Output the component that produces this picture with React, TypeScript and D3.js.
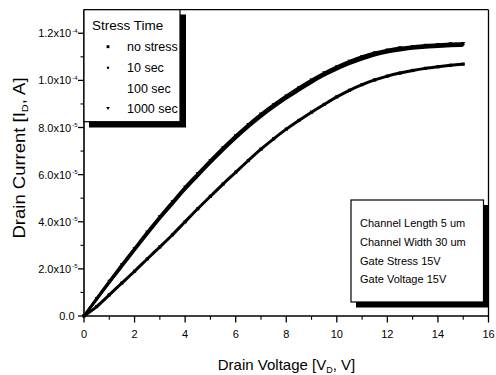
import React from "react";
import * as d3 from "d3";

const voltage = [0, 0.5, 1, 1.5, 2, 2.5, 3, 3.5, 4, 4.5, 5, 5.5, 6, 6.5, 7, 7.5, 8, 8.5, 9, 9.5, 10, 10.5, 11, 11.5, 12, 12.5, 13, 13.5, 14, 14.5, 15];
// drain current in units of 1e-5 A
const noStress = [0, 0.4, 0.9, 1.4, 1.9, 2.42, 2.93, 3.45, 4.0, 4.55, 5.08, 5.6, 6.1, 6.6, 7.08, 7.52, 7.93, 8.3, 8.65, 8.98, 9.3, 9.58, 9.82, 10.02, 10.18, 10.31, 10.42, 10.51, 10.58, 10.64, 10.69];
const sec10 = [0, 0.72, 1.44, 2.14, 2.83, 3.52, 4.18, 4.8, 5.42, 5.99, 6.55, 7.09, 7.6, 8.08, 8.52, 8.92, 9.29, 9.64, 9.97, 10.27, 10.53, 10.76, 10.96, 11.12, 11.24, 11.33, 11.39, 11.44, 11.47, 11.5, 11.52];
const sec100 = [0, 0.7, 1.41, 2.1, 2.79, 3.47, 4.13, 4.75, 5.37, 5.94, 6.5, 7.03, 7.54, 8.02, 8.46, 8.86, 9.23, 9.58, 9.91, 10.21, 10.47, 10.7, 10.9, 11.07, 11.19, 11.28, 11.35, 11.4, 11.43, 11.46, 11.48];
const sec1000 = [0, 0.74, 1.47, 2.18, 2.87, 3.56, 4.22, 4.85, 5.47, 6.04, 6.6, 7.14, 7.65, 8.13, 8.57, 8.97, 9.34, 9.69, 10.02, 10.32, 10.58, 10.81, 11.01, 11.17, 11.29, 11.38, 11.44, 11.49, 11.52, 11.55, 11.57];

const seriesNames = ["no stress", "10 sec", "100 sec", "1000 sec"];
const seriesMarkers = ["square", "circle", "none", "triangleDown"];

const xTicks = [0, 2, 4, 6, 8, 10, 12, 14, 16];
const xMinor = [1, 3, 5, 7, 9, 11, 13, 15];
const yTicks = [0, 2, 4, 6, 8, 10, 12];
const yMinor = [1, 3, 5, 7, 9, 11];
const yTickMain = ["0.0", "2.0x10", "4.0x10", "6.0x10", "8.0x10", "1.0x10", "1.2x10"];
const yTickExp = ["", "-5", "-5", "-5", "-5", "-4", "-4"];

const infoLines = ["Channel Length 5 um", "Channel Width 30 um", "Gate Stress 15V", "Gate Voltage 15V"];

const FONT = "'Liberation Sans', Arial, sans-serif";

function Marker({ type, x, y, s = 1 }: { type: string; x: number; y: number; s?: number }) {
  if (type === "square") return <rect x={x - 1.6 * s} y={y - 1.6 * s} width={3.2 * s} height={3.2 * s} fill="#000" />;
  if (type === "circle") return <circle cx={x} cy={y} r={1.4 * s} fill="#000" />;
  if (type === "triangleDown")
    return <path d={`M${x - 2 * s},${y - 1.5 * s}L${x + 2 * s},${y - 1.5 * s}L${x},${y + 2 * s}Z`} fill="#000" />;
  return null;
}

export default function App() {
  const x = d3.scaleLinear().domain([0, 16]).range([84, 488.5]);
  const y = d3.scaleLinear().domain([0, 13]).range([316, 9.7]);
  const allSeries = [noStress, sec10, sec100, sec1000];
  const line = d3
    .line<number>()
    .x((_, i) => x(voltage[i]))
    .y((d) => y(d))
    .curve(d3.curveMonotoneX);

  const legendRows = [46.7, 67.7, 88.3, 108.3];
  const infoBase = [227, 246, 264.5, 283];

  return (
    <svg width={496} height={375} style={{ position: "absolute", left: 0, top: 0, background: "#fff" }} fontFamily={FONT}>
      <rect x={0} y={0} width={496} height={375} fill="#fff" />
      {/* curves */}
      {allSeries.map((s, si) => (
        <g key={si}>
          <path d={line(s) || ""} fill="none" stroke="#000" strokeWidth={si === 0 ? 3 : 2.6} />
          {s.map((v, i) => (
            <Marker key={i} type={seriesMarkers[si]} x={x(voltage[i])} y={y(v)} />
          ))}
        </g>
      ))}

      {/* frame */}
      <line x1={84} x2={488.5} y1={9.7} y2={9.7} stroke="#000" strokeWidth={1.3} />
      <line x1={488.5} x2={488.5} y1={9.7} y2={316} stroke="#000" strokeWidth={1.3} />
      <line x1={84} x2={84} y1={9.7} y2={316.8} stroke="#000" strokeWidth={1.6} />
      <line x1={83.2} x2={489} y1={316} y2={316} stroke="#000" strokeWidth={1.6} />

      {/* x ticks */}
      {xTicks.map((t) => (
        <g key={t}>
          <line x1={x(t)} x2={x(t)} y1={316} y2={322.5} stroke="#000" strokeWidth={1.3} />
          <text x={x(t)} y={337.5} fontSize={11} textAnchor="middle">{t}</text>
        </g>
      ))}
      {xMinor.map((t) => (
        <line key={t} x1={x(t)} x2={x(t)} y1={316} y2={319.8} stroke="#000" strokeWidth={1.1} />
      ))}

      {/* y ticks */}
      {yTicks.map((t, i) => (
        <g key={t}>
          <line x1={78} x2={84} y1={y(t)} y2={y(t)} stroke="#000" strokeWidth={1.3} />
          <text x={i === 0 ? 74.5 : 77.5} y={y(t) + 4} fontSize={11} textAnchor="end">
            {yTickMain[i]}
            {yTickExp[i] && (
              <tspan fontSize={6} dx={1} dy={-4.5}>{yTickExp[i]}</tspan>
            )}
          </text>
        </g>
      ))}
      {yMinor.map((t) => (
        <line key={t} x1={80.5} x2={84} y1={y(t)} y2={y(t)} stroke="#000" strokeWidth={1.1} />
      ))}

      {/* axis titles */}
      <text x={286.5} y={370} fontSize={15} textAnchor="middle">
        Drain Voltage [V<tspan fontSize={9} dy={2.5}>D</tspan><tspan dy={-2.5}>, V]</tspan>
      </text>
      <g transform="translate(24.5,158) scale(0.85,1) rotate(-90)">
        <text fontSize={18.5} textAnchor="middle">
          Drain Current [I<tspan fontSize={11} dy={4}>D</tspan><tspan dy={-4}>, A]</tspan>
        </text>
      </g>

      {/* legend */}
      <rect x={89} y={14.5} width={97} height={113} fill="#000" />
      <rect x={84} y={9.7} width={96} height={112} fill="#fff" stroke="#000" strokeWidth={1.2} />
      <text x={92} y={30} fontSize={13.5}>Stress Time</text>
      {seriesNames.map((n, i) => (
        <g key={n}>
          <Marker type={seriesMarkers[i]} x={108} y={legendRows[i]} s={0.9} />
          <text x={127} y={legendRows[i] + 4.5} fontSize={12.5}>{n}</text>
        </g>
      ))}

      {/* info box */}
      <rect x={356} y={205} width={133} height={102.5} fill="#000" />
      <rect x={351} y={200} width={132.5} height={102} fill="#fff" stroke="#000" strokeWidth={1.2} />
      {infoLines.map((t, i) => (
        <text key={t} x={360} y={infoBase[i]} fontSize={11}>{t}</text>
      ))}
    </svg>
  );
}
